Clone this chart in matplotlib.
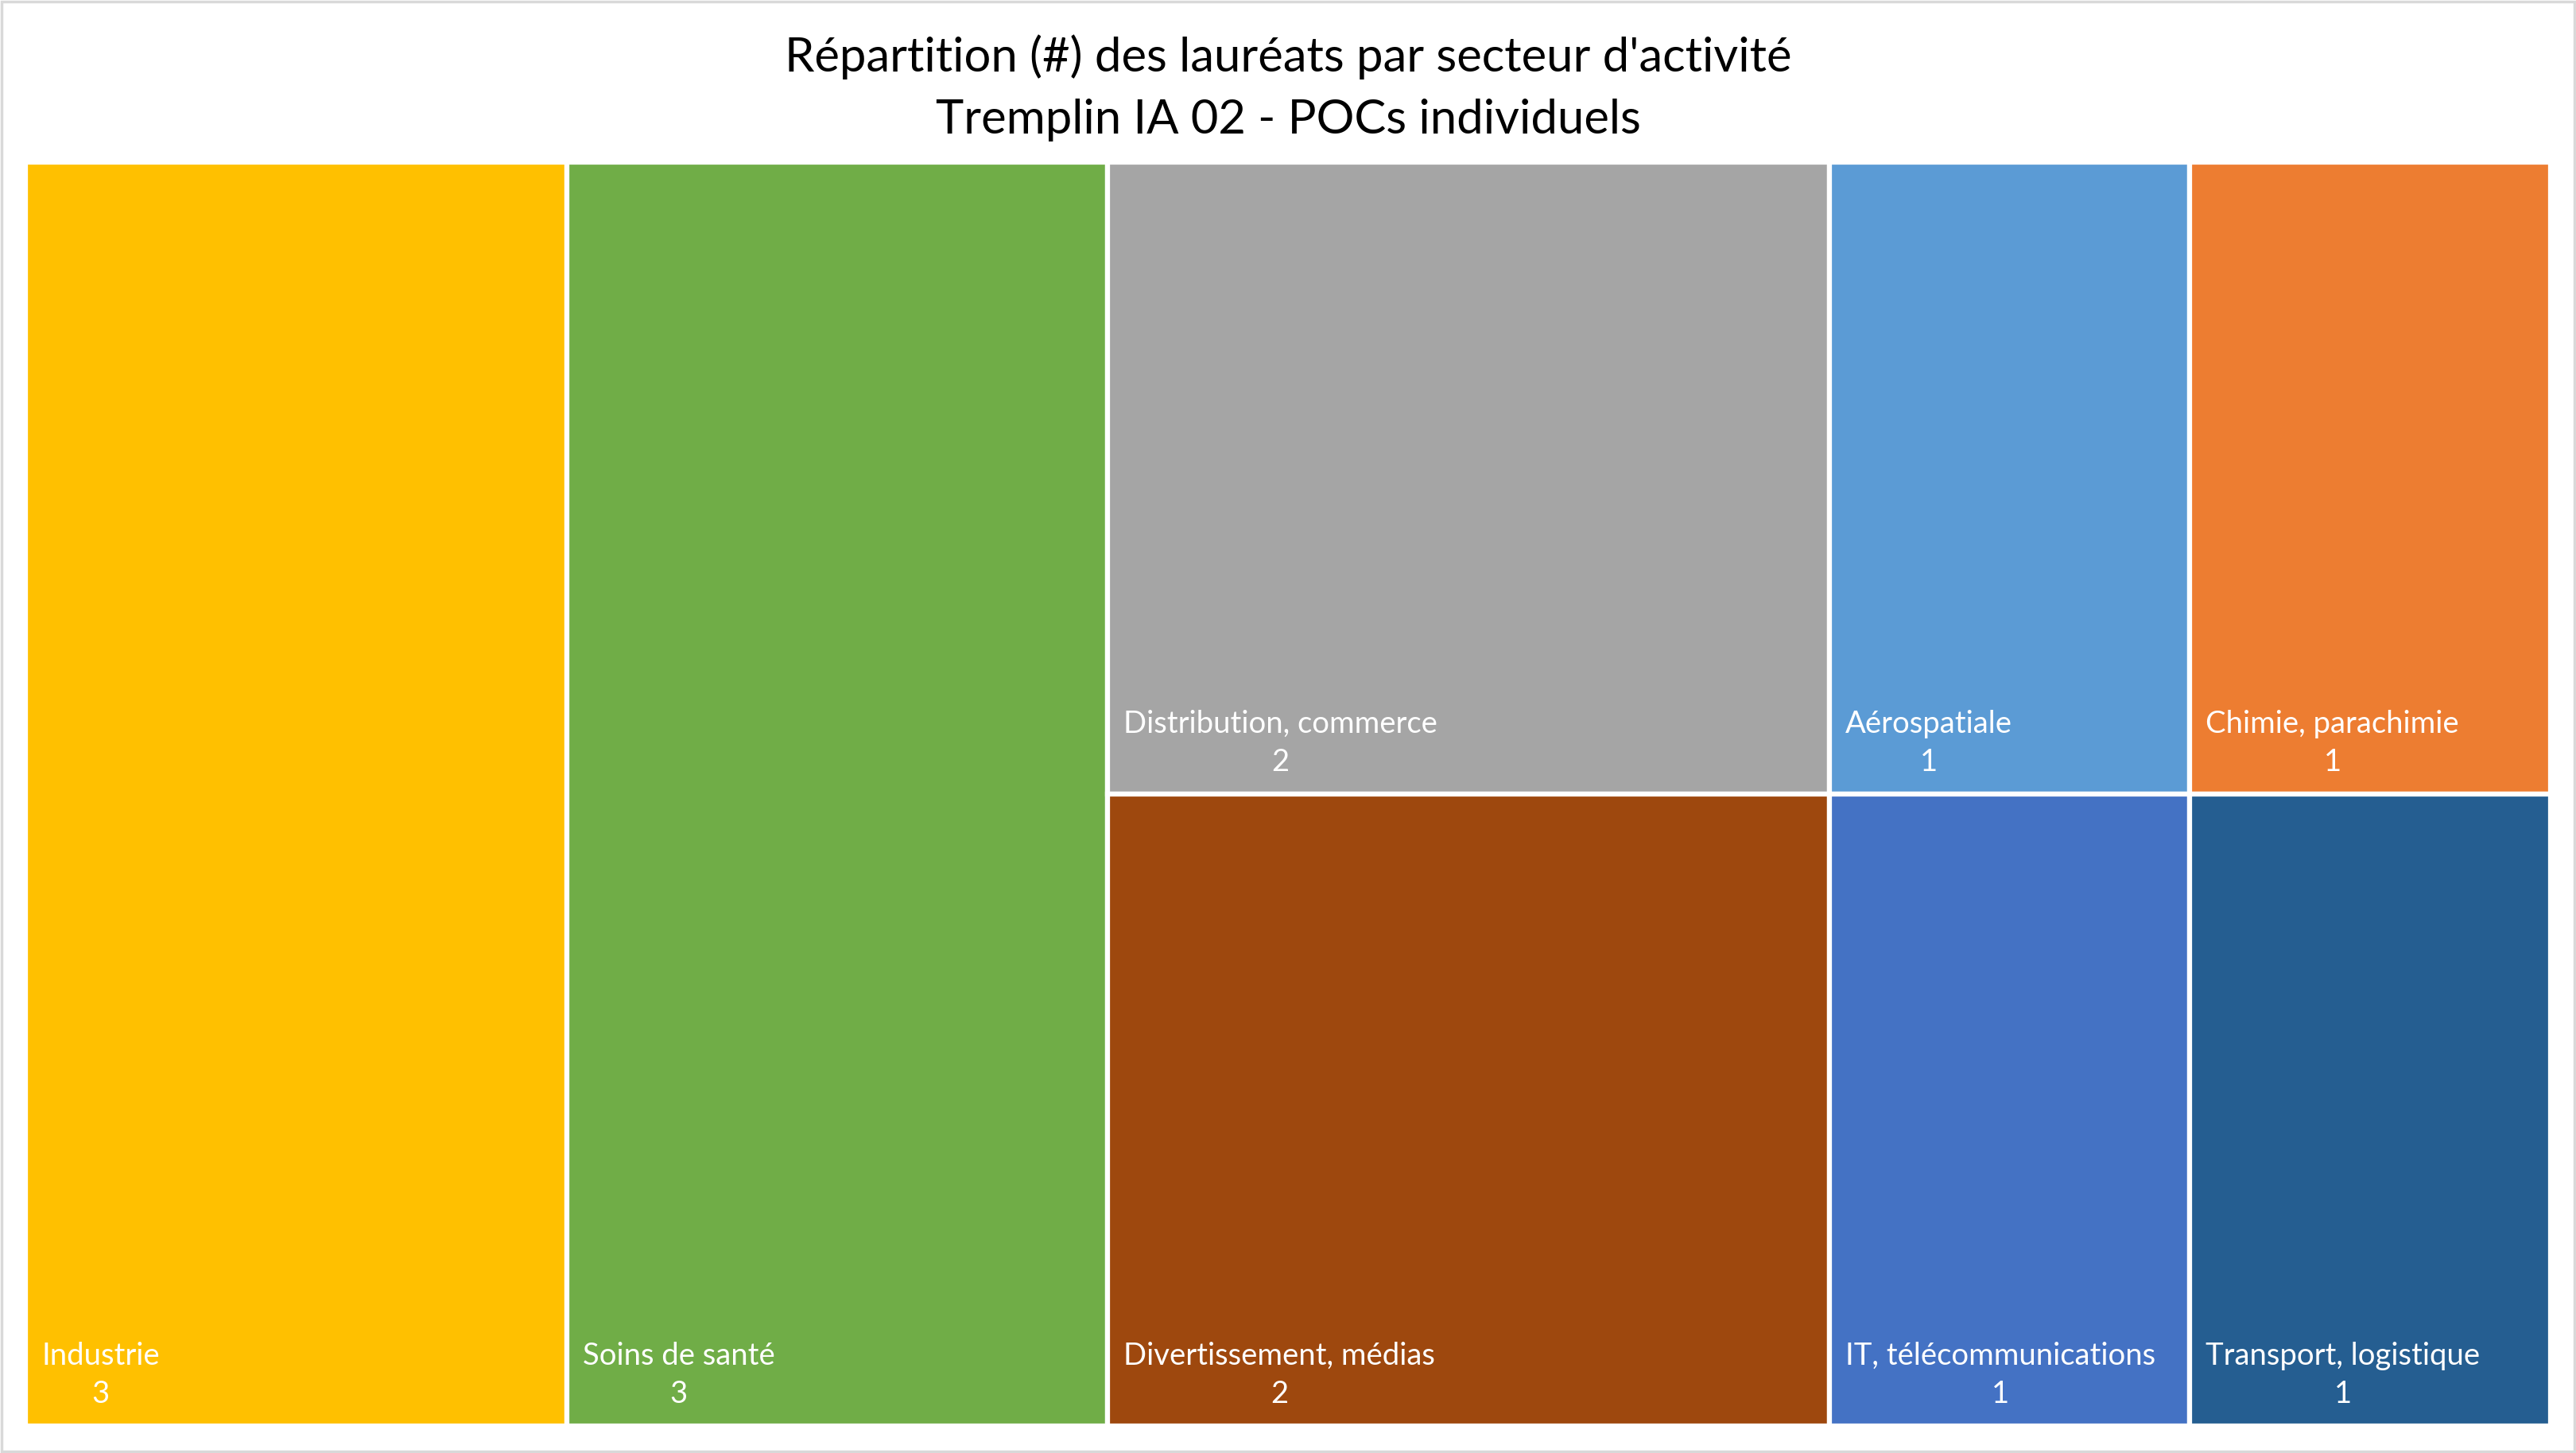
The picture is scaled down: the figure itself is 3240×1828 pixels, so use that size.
import matplotlib.pyplot as plt
from matplotlib.patches import Rectangle

plt.rcParams['font.family'] = ['Lato', 'DejaVu Sans']

title_lines = ["Répartition (#) des lauréats par secteur d'activité",
               "Tremplin IA 02 - POCs individuels"]

secteurs = ['Industrie', 'Soins de santé', 'Distribution, commerce', 'Divertissement, médias',
            'Aérospatiale', 'IT, télécommunications', 'Chimie, parachimie', 'Transport, logistique']
laureats = [3, 3, 2, 2, 1, 1, 1, 1]
couleurs = ['#FFC000', '#70AD47', '#A5A5A5', '#9E480E',
            '#5B9BD5', '#4472C4', '#ED7D31', '#255E91']

# colonnes du treemap (indices dans secteurs), empilees de haut en bas
colonnes = [[0], [1], [2, 3], [4, 5], [6, 7]]

W, H = 3240, 1828
fig = plt.figure(figsize=(W / 100, H / 100), dpi=100)

# cadre gris autour du graphique
fig.patches.append(Rectangle((2 / W, 2 / H), 1 - 4 / W, 1 - 4 / H, transform=fig.transFigure,
                             fill=False, edgecolor='#d9d9d9', linewidth=2.5))

fig.text(1620 / W, 1 - 72 / H, title_lines[0], ha='center', va='center', fontsize=43)
fig.text(1620 / W, 1 - 151 / H, title_lines[1], ha='center', va='center', fontsize=43)

left, right, top, bottom = 32, 3208, 204, 1794
ax = fig.add_axes([left / W, 1 - bottom / H, (right - left) / W, (bottom - top) / H])
total = sum(laureats)
ax.set_xlim(0, total)
ax.set_ylim(0, 1)
ax.axis('off')

x = 0
for col in colonnes:
    col_sum = sum(laureats[i] for i in col)
    y = 1
    for i in col:
        h = laureats[i] / col_sum
        y -= h
        ax.add_patch(Rectangle((x, y), col_sum, h, facecolor=couleurs[i],
                               edgecolor='white', linewidth=4.5, clip_on=False))
        ax.annotate(secteurs[i] + '\n' + str(laureats[i]), xy=(x, y), xytext=(20, 22),
                    textcoords='offset pixels', ha='left', va='bottom',
                    multialignment='center', color='white', fontsize=27.5, linespacing=1.42)
    x += col_sum

fig.savefig('out.png', dpi=100)
